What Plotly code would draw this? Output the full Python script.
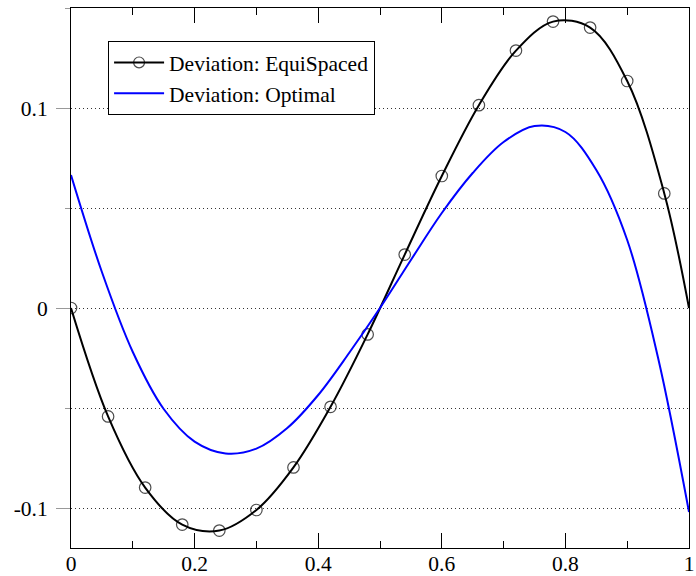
import plotly.graph_objects as go

# EquiSpaced deviation: sample points (markers) plus curve end at x=1
equi_x = [0.0, 0.06, 0.12, 0.18, 0.24, 0.30, 0.36, 0.42, 0.48, 0.54, 0.60,
          0.66, 0.72, 0.78, 0.84, 0.90, 0.96, 1.0]
equi_y = [0.0, -0.0542, -0.0898, -0.1083, -0.1113, -0.1010, -0.0797, -0.0494,
          -0.0132, 0.0267, 0.0660, 0.1014, 0.1287, 0.1432, 0.1402, 0.1135,
          0.0573, 0.0]
equi_has_marker = [True] * 17 + [False]

# Optimal deviation curve
opt_x = [0.0, 0.05, 0.1, 0.15, 0.2, 0.25, 0.3, 0.35, 0.4, 0.45, 0.5,
         0.55, 0.6, 0.65, 0.7, 0.75, 0.8, 0.85, 0.9, 0.95, 1.0]
opt_y = [0.0665, 0.018, -0.022, -0.0505, -0.0668, -0.0727, -0.0703, -0.0600,
         -0.0435, -0.0225, 0.0, 0.024, 0.0475, 0.0675, 0.0830, 0.0910,
         0.0880, 0.0690, 0.0340, -0.0250, -0.1020]

y_tickvals = [-0.1, 0.0, 0.1]
y_ticktext = ["-0.1", "0", "0.1"]
x_tickvals = [0, 0.2, 0.4, 0.6, 0.8, 1.0]
x_ticktext = ["0", "0.2", "0.4", "0.6", "0.8", "1"]

FONT = "Liberation Serif, Times New Roman, serif"
FS = 21.5
GRID_DASH = "1px,3px"

fig = go.Figure()
fig.add_trace(go.Scatter(
    x=equi_x, y=equi_y, mode="lines+markers", name="Deviation: EquiSpaced",
    line=dict(color="black", width=2, shape="spline"),
    marker=dict(symbol="circle-open", color="black",
                size=[11.5 if m else 0 for m in equi_has_marker],
                line=dict(width=1.2, color="black")),
))
fig.add_trace(go.Scatter(
    x=opt_x, y=opt_y, mode="lines", name="Deviation: Optimal",
    line=dict(color="#0000ff", width=2, shape="spline"),
))

fig.update_layout(
    width=696, height=576,
    margin=dict(l=71, r=7, t=8, b=28),
    paper_bgcolor="white", plot_bgcolor="white",
    font=dict(family=FONT, size=FS, color="black"),
    showlegend=True,
    legend=dict(x=0.06, y=0.939, xanchor="left", yanchor="top",
                bgcolor="white", bordercolor="black", borderwidth=1,
                font=dict(family=FONT, size=FS, color="black"),
                itemwidth=50, tracegroupgap=0),
    xaxis=dict(range=[0, 1], tickmode="array", tickvals=x_tickvals,
               ticktext=x_ticktext, ticks="inside", ticklen=15,
               tickcolor="black", tickwidth=1, automargin=False,
               ticklabeloverflow="allow", ticklabelstandoff=-4,
               minor=dict(tickmode="linear", tick0=0, dtick=0.1,
                          ticks="inside", ticklen=7, tickcolor="black",
                          tickwidth=1, showgrid=False),
               showline=True, linecolor="black", linewidth=1,
               mirror="allticks", showgrid=False, zeroline=False,
               tickfont=dict(family=FONT, size=FS, color="black")),
    yaxis=dict(range=[-0.12, 0.15], tickmode="array", tickvals=y_tickvals,
               ticktext=y_ticktext, ticks="outside", ticklen=14,
               tickcolor="#999999", tickwidth=1, ticklabelstandoff=4,
               automargin=False, ticklabeloverflow="allow",
               minor=dict(tickmode="linear", tick0=0, dtick=0.05,
                          ticks="outside", ticklen=5, tickcolor="#999999",
                          tickwidth=1, showgrid=True, griddash=GRID_DASH,
                          gridcolor="#333333", gridwidth=1),
               showgrid=True, griddash=GRID_DASH, gridcolor="#333333",
               gridwidth=1, showline=True, linecolor="black", linewidth=1,
               mirror=True, zeroline=False,
               tickfont=dict(family=FONT, size=FS, color="black")),
)

fig.write_html(
    "out.html",
    config={"displayModeBar": False},
    post_script="document.body.style.margin='0';document.body.style.padding='0';",
)
